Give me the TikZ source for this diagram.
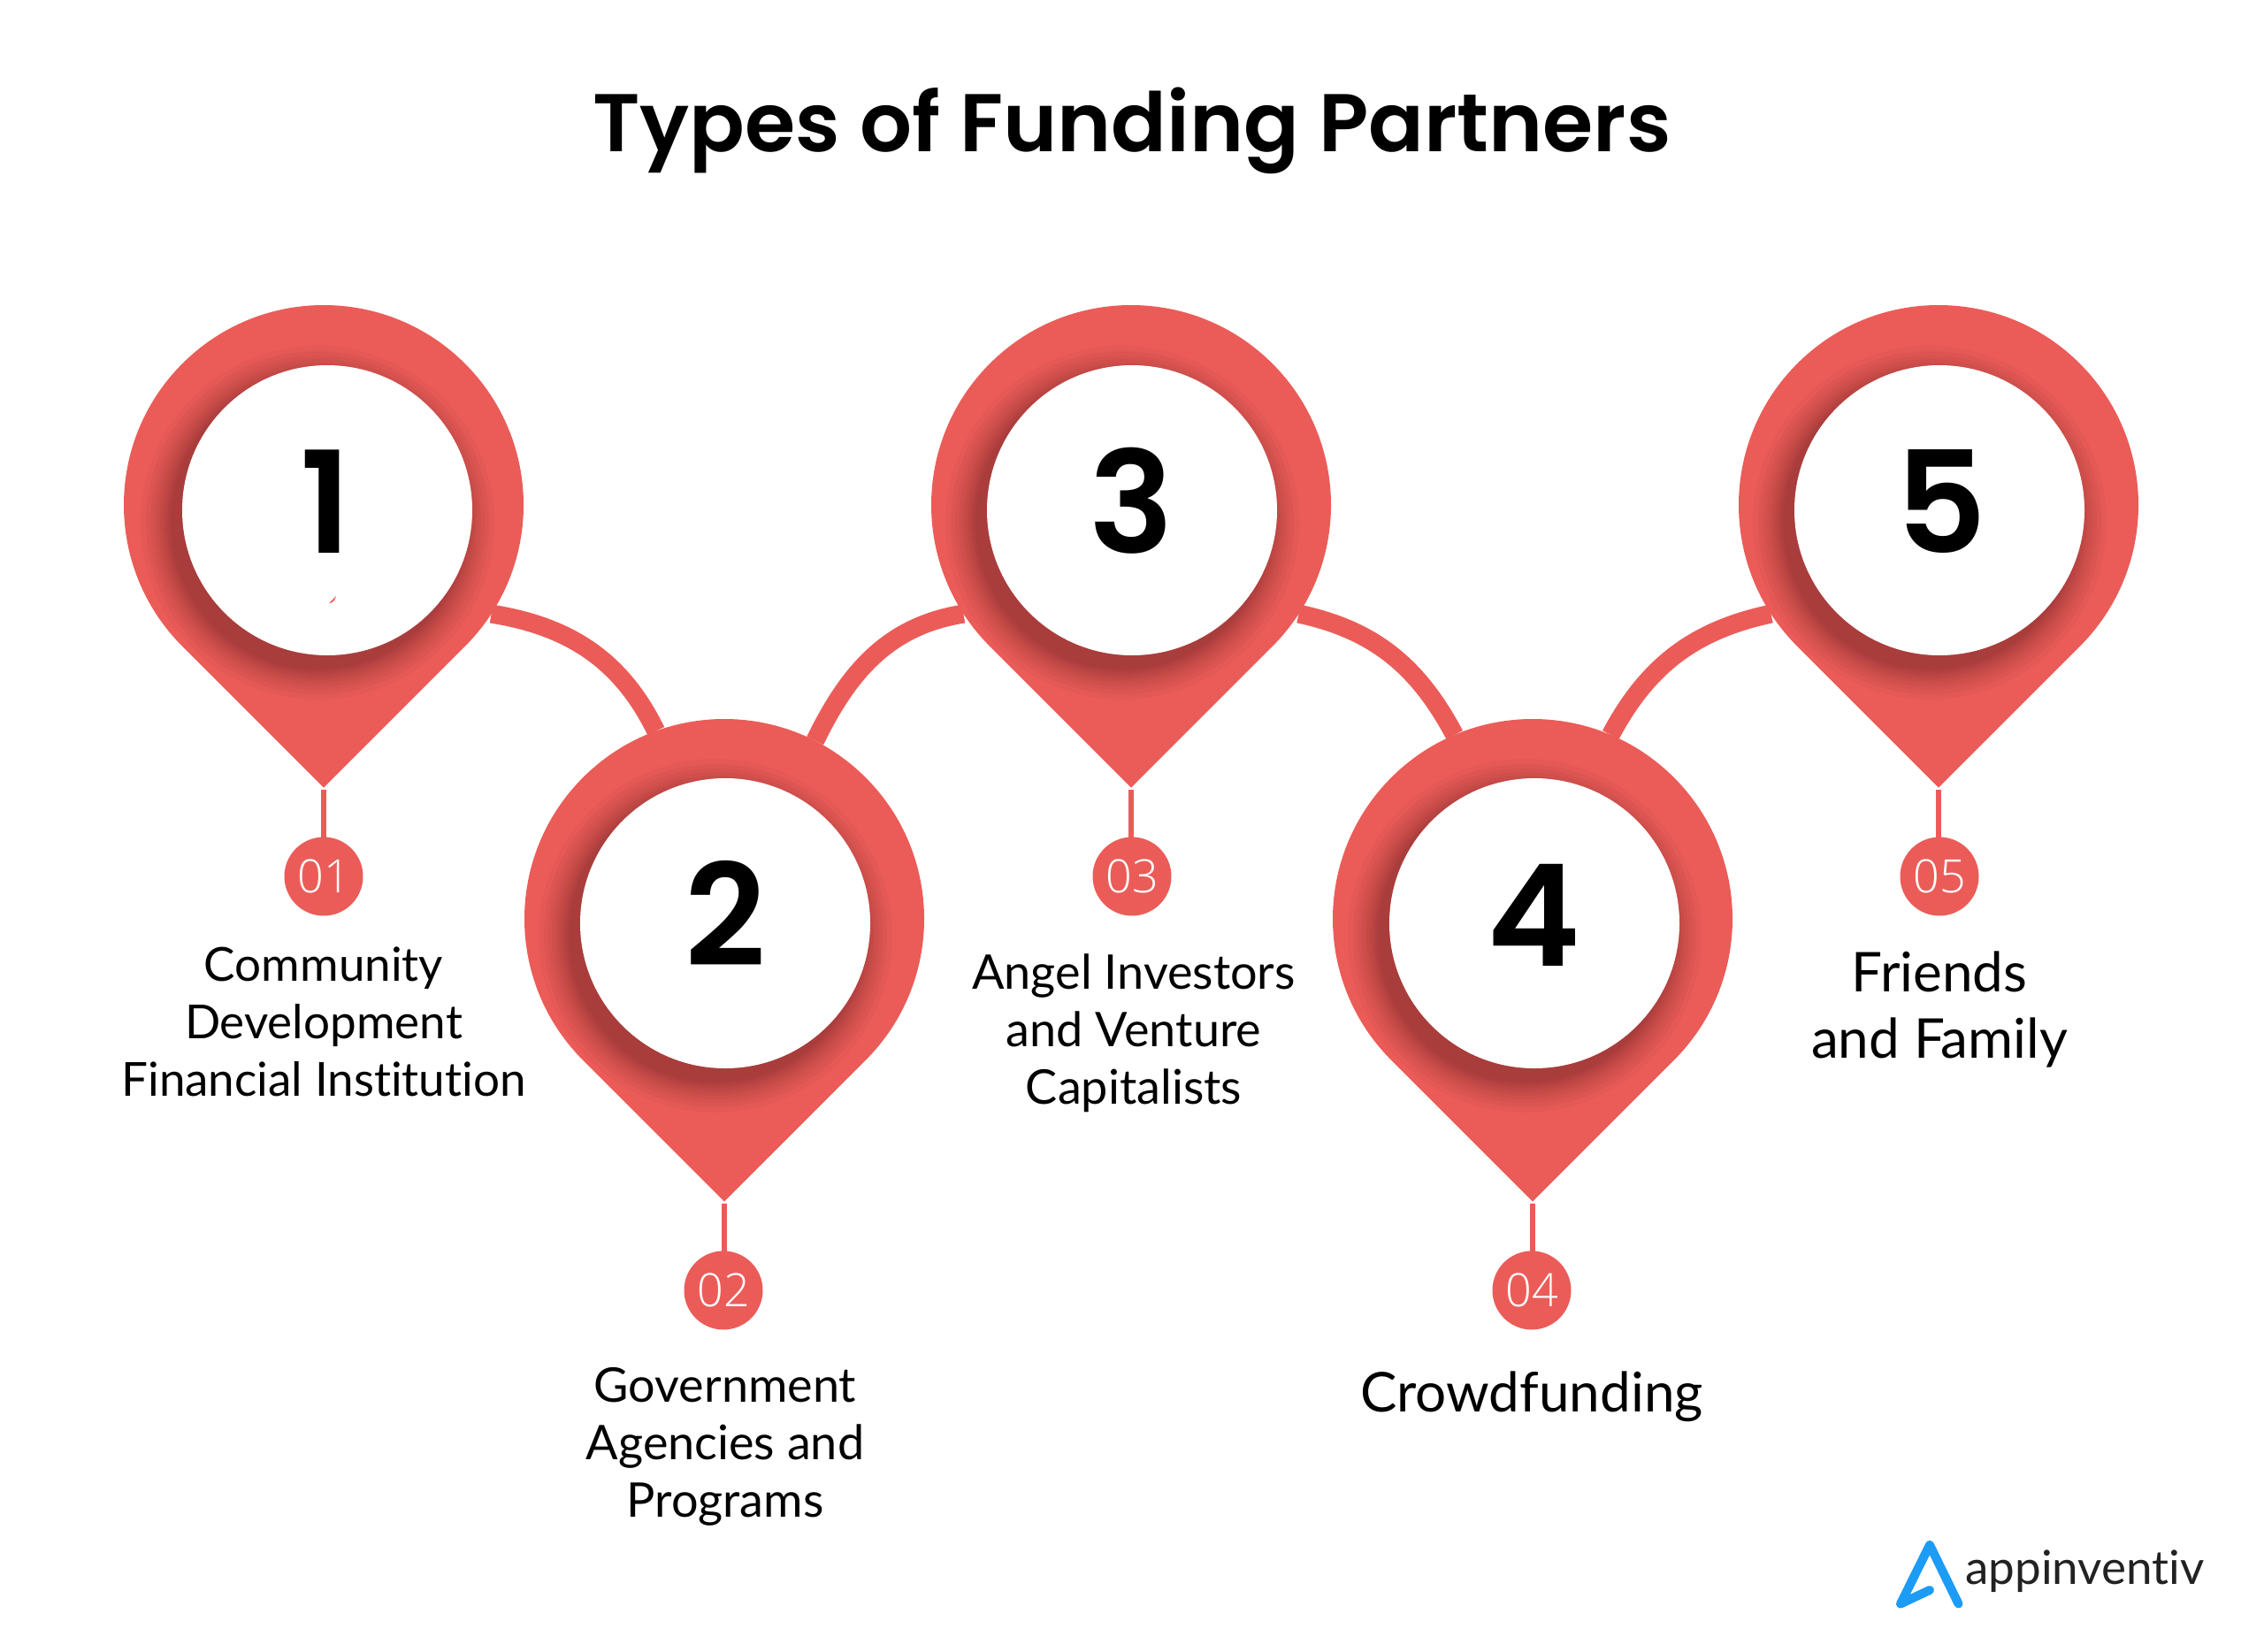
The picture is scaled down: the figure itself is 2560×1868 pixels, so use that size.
\documentclass[tikz,border=0pt]{standalone}
\usepackage{fontspec}
\setmainfont[Ligatures={NoCommon}]{Lato}
\newfontfamily\headfont{Poppins SemiBold}
\newfontfamily\badgefont{Open Sans Light}
\definecolor{pinred}{HTML}{EB5C58}
\definecolor{shadowred}{HTML}{4A1518}
\definecolor{logoblue}{HTML}{1C9CF5}
\definecolor{logotext}{HTML}{222222}
\tikzset{
  x=1pt,y=1pt,
  headspot/.style={circle,inner sep=0pt,outer sep=0pt,minimum size=452pt},
  linkline/.style={draw=pinred,line width=21pt},
  stemline/.style={draw=pinred,line width=6pt},
  badge/.style={circle,fill=pinred,inner sep=0pt,outer sep=0pt,minimum size=89pt,text=white,font=\badgefont\fontsize{52}{52}\selectfont},
  bignum/.style={anchor=base,inner sep=0pt,font=\headfont\fontsize{160}{160}\selectfont},
  smalllabel/.style={align=center,inner sep=0pt,text=black,font=\fontsize{54}{65}\selectfont},
  largelabel/.style={align=center,inner sep=0pt,text=black,font=\fontsize{62}{75}\selectfont},
}
\begin{document}
\begin{tikzpicture}
\useasboundingbox (0,0) rectangle (2560,-1868);
\fill[white] (0,0) rectangle (2560,-1868);
\node[anchor=base,inner sep=0pt,font=\headfont\fontsize{92.6}{93}\selectfont] (title) at (1280,-171) {Types of Funding Partners};
% invisible head circles carrying the connector anchors
\foreach \n/\x/\y in {1/366/571,2/819/1039,3/1279/571,4/1733/1039,5/2192/571}
  \node[headspot] (head\n) at (\x,-\y) {};
\draw[linkline] (head1.-33) to[out=-9,in=116] (head2.110.5);
\draw[linkline] (head2.63.5) to[out=64,in=189] (head3.213.6);
\draw[linkline] (head3.-33) to[out=-12,in=118] (head4.113.8);
\draw[linkline] (head4.67.8) to[out=62,in=192] (head5.213.4);
% pins
\foreach \n/\x/\y/\ix/\iy/\bx/\by/\dx/\num in {
  1/366/571/370/577/366/991/368/1,
  2/819/1039/820/1044/818/1459/820/2,
  3/1279/571/1280/577/1280/991/1279/3,
  4/1733/1039/1735/1044/1732/1459/1734/4,
  5/2192/571/2193/577/2193/991/2195/5}{
  \coordinate (tip\n) at (\x,-\y-319.6);
  \node[badge] (badge\n) at (\bx,-\by) {0\num};
  \draw[stemline] (tip\n) ++(0,-2) -- (tip\n |- badge\n.north);
  \begin{scope}
    \path[clip] (tip\n) -- ++(-159.8,159.8) arc[start angle=225,end angle=-45,radius=226] -- cycle;
    \fill[pinred] (\x-240,-\y-330) rectangle (\x+240,-\y+240);
    \foreach \r in {2,4,6,8,11,14,17,21,25,30,36}
      \fill[shadowred,opacity=0.045] (\ix-11,-\iy-14) circle[radius=164+\r];
    \fill[white] (\ix,-\iy) circle[radius=164];
  \end{scope}
  \node[bignum] (num\n) at (\dx,-\iy-48) {\num};
}
\fill[pinred] (372,-682) -- (380,-674) .. controls (379,-679) and (376,-682) .. (372,-682) -- cycle;
% labels
\node[smalllabel,font=\fontsize{53}{65}\selectfont] (label1) at (366,-1155) {Community\\Development\\Financial Institution};
\node[smalllabel] (label2) at (820,-1636) {Government\\Agencies and\\Programs};
\node[smalllabel] (label3) at (1282,-1168) {Angel Investors\\and Venture\\Capitalists};
\node[largelabel] (label4) at (1732,-1579) {Crowdfunding};
\node[largelabel] (label5) at (2193,-1141) {Friends\\and Family};
% logo
\draw[logoblue,line width=10pt,line cap=round,line join=round] (2182,-1798) -- (2149,-1813.5) -- (2182,-1747) -- (2214.5,-1813.5);
\node[anchor=base west,inner sep=0pt,text=logotext,font=\fontsize{53}{53}\selectfont] (logoword) at (2222,-1791) {appinventiv};
\end{tikzpicture}
\end{document}
